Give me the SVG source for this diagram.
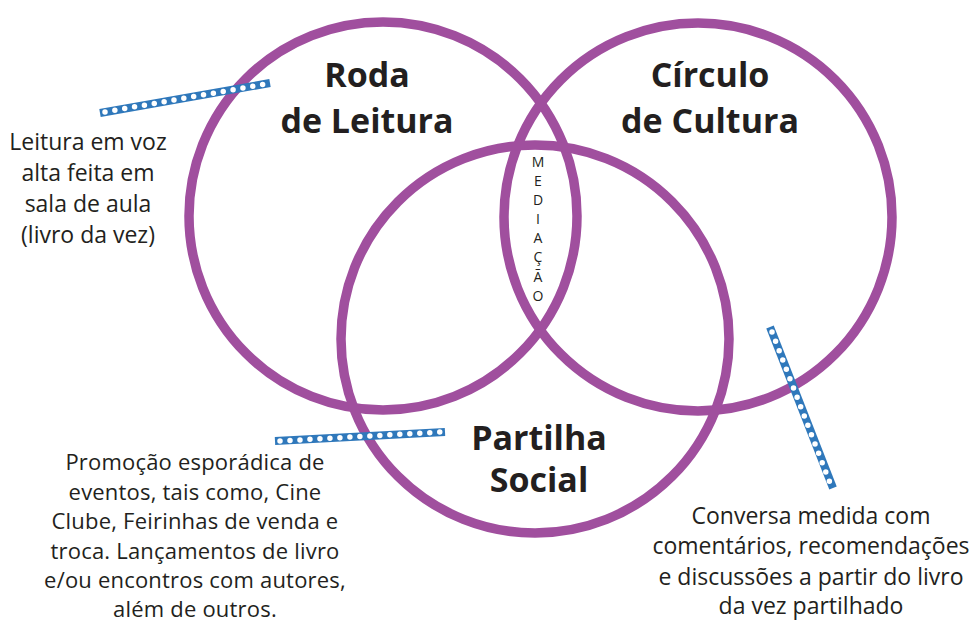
<svg xmlns="http://www.w3.org/2000/svg" width="970" height="622" viewBox="0 0 970 622">
<style>
.c{fill:none;stroke:#a04f9e;stroke-width:9.5}
.t{font-family:"Open Sans","Liberation Sans",sans-serif;fill:#231f20;text-anchor:middle}
.h{font-size:34px;font-weight:bold}
.b{font-size:23px}
.s{font-size:22px;letter-spacing:0.2px}
.m{font-size:14px}
.bl{stroke:#2f78bb;stroke-width:8;fill:none}
.wd{stroke:#ffffff;stroke-width:5.5;stroke-linecap:round;stroke-dasharray:0 10;fill:none}
</style>
<rect width="970" height="622" fill="#ffffff"/>
<g id="roda-de-leitura">
<circle class="c" cx="383" cy="216" r="194"/>
<text class="t h" x="367" y="87">Roda</text>
<text class="t h" x="367" y="133">de Leitura</text>
</g>
<g id="circulo-de-cultura">
<circle class="c" cx="698" cy="217" r="194"/>
<text class="t h" x="710" y="87">Círculo</text>
<text class="t h" x="710" y="133">de Cultura</text>
</g>
<g id="partilha-social">
<circle class="c" cx="535" cy="339" r="194"/>
<text class="t h" x="539" y="450">Partilha</text>
<text class="t h" x="539" y="492">Social</text>
</g>
<g id="mediacao">
<text class="t m" x="538" y="167">M</text>
<text class="t m" x="538" y="186">E</text>
<text class="t m" x="538" y="205">D</text>
<text class="t m" x="538" y="224">I</text>
<text class="t m" x="538" y="243">A</text>
<text class="t m" x="538" y="262">Ç</text>
<text class="t m" x="538" y="282">Ã</text>
<text class="t m" x="538" y="301">O</text>
</g>
<g id="connectors">
<line class="bl" x1="100" y1="113" x2="270" y2="83"/>
<line class="wd" x1="105" y1="112" x2="266" y2="84"/>
<line class="bl" x1="275" y1="441" x2="445" y2="432"/>
<line class="wd" x1="280" y1="441" x2="441" y2="432"/>
<line class="bl" x1="770" y1="327" x2="833" y2="488"/>
<line class="wd" x1="772" y1="332" x2="830" y2="483"/>
</g>
<g id="label-leitura">
<text class="t b" x="88" y="150">Leitura em voz</text>
<text class="t b" x="88" y="181">alta feita em</text>
<text class="t b" x="88" y="212">sala de aula</text>
<text class="t b" x="88" y="243">(livro da vez)</text>
</g>
<g id="label-promocao">
<text class="t s" x="195" y="470">Promoção esporádica de</text>
<text class="t s" x="195" y="499.5">eventos, tais como, Cine</text>
<text class="t s" x="195" y="529">Clube, Feirinhas de venda e</text>
<text class="t s" x="195" y="558.5">troca. Lançamentos de livro</text>
<text class="t s" x="195" y="588">e/ou encontros com autores,</text>
<text class="t s" x="195" y="617">além de outros.</text>
</g>
<g id="label-conversa">
<text class="t b" x="811" y="524">Conversa medida com</text>
<text class="t b" x="811" y="554">comentários, recomendações</text>
<text class="t b" x="811" y="585">e discussões a partir do livro</text>
<text class="t b" x="811" y="614">da vez partilhado</text>
</g>
</svg>
